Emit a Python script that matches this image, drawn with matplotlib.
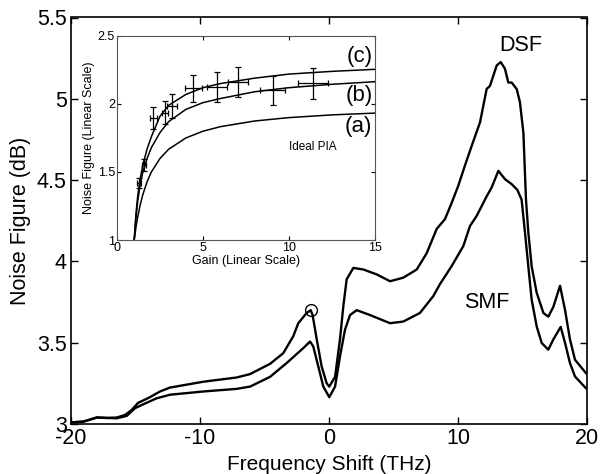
import matplotlib
matplotlib.use("Agg")
import matplotlib.pyplot as plt

plt.rcParams['font.family'] = ['Liberation Sans', 'DejaVu Sans']
plt.rcParams['axes.unicode_minus'] = False

# ---- main chart data ----
dsf_x = [-20, -19.05, -18.0, -17.2, -16.45, -15.8, -15.3, -14.8, -14.0, -13.1, -12.33,
         -9.74, -7.16, -6.12, -4.57, -3.54, -2.77, -2.38, -1.73, -1.42, -1.27, -0.95,
         -0.57, -0.18, 0.02, 0.47, 0.85, 1.11, 1.37, 1.89, 2.67, 3.70, 4.73, 5.76, 6.80,
         7.57, 8.35, 8.99, 9.51, 10.02, 10.54, 11.06, 11.71, 12.22, 12.48, 13.0, 13.31,
         13.64, 13.9, 14.16, 14.55, 14.8, 15.07, 15.27, 15.45, 15.71, 16.1, 16.62, 17.0,
         17.39, 17.91, 18.3, 18.68, 19.07, 19.92]
dsf_y = [3.01, 3.015, 3.04, 3.037, 3.04, 3.056, 3.086, 3.13, 3.16, 3.20, 3.224,
         3.26, 3.286, 3.307, 3.37, 3.436, 3.54, 3.62, 3.683, 3.70, 3.67, 3.52,
         3.354, 3.25, 3.23, 3.29, 3.52, 3.724, 3.89, 3.96, 3.95, 3.92, 3.878, 3.90, 3.95,
         4.05, 4.20, 4.26, 4.36, 4.465, 4.59, 4.71, 4.856, 5.06, 5.08, 5.205, 5.226,
         5.185, 5.10, 5.10, 5.06, 4.98, 4.79, 4.38, 4.18, 3.97, 3.807, 3.683, 3.66,
         3.72, 3.85, 3.70, 3.52, 3.395, 3.313]

smf_x = [-20, -19.05, -18.0, -16.45, -15.68, -15.04, -14.52, -13.36, -12.33, -9.74,
         -7.16, -6.12, -4.57, -3.28, -1.99, -1.47, -1.22, -0.83, -0.44, 0.02, 0.47,
         0.85, 1.24, 1.63, 2.15, 3.18, 4.73, 5.76, 7.05, 8.08, 8.6, 9.5, 10.41, 10.93,
         11.45, 12.22, 12.61, 13.13, 13.64, 14.16, 14.6, 14.93, 15.19, 15.45, 15.71,
         16.1, 16.49, 17.0, 17.39, 17.96, 18.3, 18.68, 19.07, 19.92]
smf_y = [3.01, 3.014, 3.04, 3.035, 3.05, 3.097, 3.117, 3.158, 3.18, 3.20,
         3.216, 3.23, 3.29, 3.375, 3.467, 3.507, 3.477, 3.354, 3.23, 3.165, 3.23,
         3.415, 3.58, 3.67, 3.70, 3.67, 3.62, 3.63, 3.683, 3.786, 3.86, 3.97, 4.094, 4.218,
         4.28, 4.40, 4.455, 4.557, 4.506, 4.475, 4.44, 4.38, 4.18, 3.97, 3.765,
         3.60, 3.498, 3.457, 3.52, 3.597, 3.498, 3.375, 3.292, 3.22]

circle_x = [-1.42]
circle_y = [3.70]

x_ticks = [-20, -10, 0, 10, 20]
y_ticks = [3, 3.5, 4, 4.5, 5, 5.5]
y_ticklabels = ['3', '3.5', '4', '4.5', '5', '5.5']

# ---- inset data ----
gain = [1, 1.1, 1.2, 1.35, 1.5, 1.75, 2, 2.5, 3, 4, 5, 6, 8, 10, 12.5, 15]
nf_a = [1, 1.091, 1.167, 1.259, 1.333, 1.429, 1.5, 1.6, 1.667, 1.75, 1.8, 1.833,
        1.875, 1.9, 1.92, 1.933]
nf_b = [1, 1.16, 1.28, 1.41, 1.50, 1.60, 1.68, 1.79, 1.87, 1.96, 2.01, 2.04,
        2.09, 2.12, 2.145, 2.164]
nf_c = [1, 1.19, 1.32, 1.45, 1.55, 1.67, 1.76, 1.91, 1.99, 2.07, 2.12, 2.15,
        2.19, 2.22, 2.24, 2.255]

meas_g = [1.30, 1.59, 2.11, 2.79, 3.18, 4.44, 5.8, 7.05, 9.05, 11.41]
meas_f = [1.42, 1.55, 1.895, 1.936, 1.985, 2.115, 2.125, 2.165, 2.10, 2.152]
meas_gerr = [0.12, 0.12, 0.2, 0.2, 0.3, 0.48, 0.58, 0.58, 0.73, 0.87]
meas_ferr = [0.036, 0.043, 0.08, 0.085, 0.09, 0.1, 0.107, 0.11, 0.108, 0.113]

W, H = 601, 474
fig = plt.figure(figsize=(W / 100, H / 100), dpi=100)

ax = fig.add_axes([71 / W, 1 - 424 / H, (587 - 71) / W, (424 - 17.5) / H])
ax.plot(dsf_x, dsf_y, color='black', lw=1.7)
ax.plot(smf_x, smf_y, color='black', lw=1.7)
ax.plot(circle_x, circle_y, 'o', mfc='none', mec='black', ms=8.5, mew=1.0)
ax.set_xlim(-20, 20)
ax.set_ylim(3, 5.5)
ax.set_xticks(x_ticks)
ax.set_yticks(y_ticks)
ax.set_yticklabels(y_ticklabels)
ax.tick_params(direction='in', length=5, width=1, labelsize=15.5,
               top=True, right=True, pad=3)
for s in ax.spines.values():
    s.set_linewidth(1.2)
ax.set_xlabel('Frequency Shift (THz)', fontsize=15, labelpad=4)
ax.set_ylabel('Noise Figure (dB)', fontsize=15.5, labelpad=4)
ax.text(14.9, 5.33, 'DSF', fontsize=15.5, ha='center', va='center')
ax.text(12.25, 3.747, 'SMF', fontsize=15.5, ha='center', va='center')

# ---- inset ----
ins = fig.add_axes([117 / W, 1 - 240 / H, (375 - 117) / W, (240 - 36) / H])
ins.plot(gain, nf_a, color='black', lw=1.1)
ins.plot(gain, nf_b, color='black', lw=1.1)
ins.plot(gain, nf_c, color='black', lw=1.1)
ins.errorbar(meas_g, meas_f, xerr=meas_gerr, yerr=meas_ferr, fmt='none',
             ecolor='black', elinewidth=0.9, capsize=2.5, capthick=0.9)
ins.set_xlim(0, 15)
ins.set_ylim(1, 2.5)
ins.set_xticks([0, 5, 10, 15])
ins.set_yticks([1, 1.5, 2, 2.5])
ins.set_yticklabels(['1', '1.5', '2', '2.5'])
ins.tick_params(direction='in', length=3, width=0.8, labelsize=9,
                top=True, right=True, pad=1.5)
for s in ins.spines.values():
    s.set_linewidth(0.8)
    s.set_color('#555555')
ins.set_xlabel('Gain (Linear Scale)', fontsize=9, labelpad=1)
ins.set_ylabel('Noise Figure (Linear Scale)', fontsize=9, labelpad=2)
ins.text(14.85, 2.35, '(c)', fontsize=16, ha='right', va='center')
ins.text(14.85, 2.065, '(b)', fontsize=16, ha='right', va='center')
ins.text(14.85, 1.835, '(a)', fontsize=16, ha='right', va='center')
ins.text(11.4, 1.685, 'Ideal PIA', fontsize=8.5, ha='center', va='center')

fig.savefig('out.png', dpi=100)
